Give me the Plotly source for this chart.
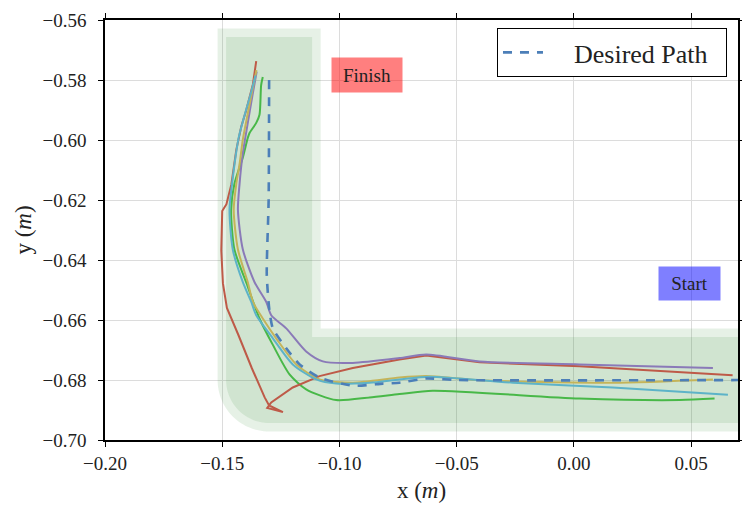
import math
import plotly.graph_objects as go

# ---------------- data ----------------
X_RANGE = [-0.20, 0.07]
Y_RANGE = [-0.70, -0.56]
X_TICKS = [-0.20, -0.15, -0.10, -0.05, 0.00, 0.05]
Y_TICKS = [-0.70, -0.68, -0.66, -0.64, -0.62, -0.60, -0.58, -0.56]

# corridor centre line (top end, corner, right end)
CORRIDOR_X = [-0.13, -0.13, 0.10]
CORRIDOR_Y = [-0.58, -0.68, -0.68]

DESIRED_X = [-0.1300, -0.1302, -0.1310, -0.1298, -0.1284, -0.1227, -0.1170, -0.1085,
             -0.0943, -0.0815, -0.0744, -0.0630, -0.0500, 0.0800]
DESIRED_Y = [-0.5800, -0.6200, -0.6450, -0.6573, -0.6628, -0.6694, -0.6748, -0.6792,
             -0.6819, -0.6812, -0.6809, -0.6795, -0.6800, -0.6800]

GREEN_X = [0.0600, 0.0451, 0.0024, -0.0602, -0.0744, -0.0872, -0.1014, -0.1142, -0.1213,
           -0.1284, -0.1341, -0.1398, -0.1448, -0.1462, -0.1448, -0.1412, -0.1391, -0.1383,
           -0.1355, -0.1341, -0.1334, -0.1327]
GREEN_Y = [-0.6862, -0.6867, -0.6862, -0.6836, -0.6847, -0.6858, -0.6867, -0.6831, -0.6781,
           -0.6683, -0.6595, -0.6474, -0.6365, -0.6233, -0.6146, -0.6058, -0.5993, -0.5976,
           -0.5943, -0.5916, -0.5817, -0.5790]

RED_X = [0.0677, 0.0024, -0.0402, -0.0630, -0.0744, -0.0943, -0.1085, -0.1199, -0.1291,
         -0.1308, -0.1241, -0.1300, -0.1319, -0.1374, -0.1431, -0.1480, -0.1497, -0.1504,
         -0.1500, -0.1482, -0.1461, -0.1440, -0.1419, -0.1398, -0.1369, -0.1355]
RED_Y = [-0.6784, -0.6754, -0.6741, -0.6718, -0.6732, -0.6760, -0.6787, -0.6825, -0.6875,
         -0.6893, -0.6907, -0.6885, -0.6858, -0.6760, -0.6650, -0.6560, -0.6478, -0.6368,
         -0.6237, -0.6214, -0.6148, -0.6033, -0.5956, -0.5902, -0.5814, -0.5737]

PURPLE_X = [0.0593, 0.0024, -0.0402, -0.0630, -0.0744, -0.0943, -0.1071, -0.1142, -0.1227,
            -0.1291, -0.1312, -0.1362, -0.1412, -0.1433, -0.1426, -0.1413, -0.1392, -0.1371,
            -0.1353]
PURPLE_Y = [-0.6760, -0.6748, -0.6738, -0.6715, -0.6727, -0.6743, -0.6738, -0.6705, -0.6628,
            -0.6584, -0.6540, -0.6474, -0.6365, -0.6233, -0.6146, -0.6049, -0.5948, -0.5851,
            -0.5772]

OLIVE_X = [0.0593, 0.0166, -0.0402, -0.0630, -0.0744, -0.0943, -0.1085, -0.1184, -0.1270,
           -0.1327, -0.1369, -0.1391, -0.1433, -0.1451, -0.1440, -0.1426, -0.1412, -0.1392,
           -0.1371, -0.1354]
OLIVE_Y = [-0.6798, -0.6809, -0.6801, -0.6787, -0.6792, -0.6809, -0.6798, -0.6748, -0.6661,
           -0.6595, -0.6540, -0.6474, -0.6365, -0.6233, -0.6146, -0.6080, -0.5998, -0.5916,
           -0.5833, -0.5767]

CYAN_X = [0.0657, 0.0166, -0.0260, -0.0616, -0.0744, -0.0872, -0.1014, -0.1099, -0.1199,
          -0.1284, -0.1355, -0.1376, -0.1412, -0.1455, -0.1469, -0.1458, -0.1430, -0.1408,
          -0.1380, -0.1358]
CYAN_Y = [-0.6849, -0.6825, -0.6809, -0.6789, -0.6798, -0.6809, -0.6812, -0.6798, -0.6748,
          -0.6661, -0.6584, -0.6540, -0.6474, -0.6365, -0.6233, -0.6146, -0.5993, -0.5927,
          -0.5850, -0.5785]

# ---------------- layout constants ----------------
# the page places the figure 8px in from the top-left corner
W, H = 742, 503
M = dict(l=97, r=12, t=12, b=71)
PLOT_W = W - M["l"] - M["r"]
PLOT_H = H - M["t"] - M["b"]
SX = PLOT_W / (X_RANGE[1] - X_RANGE[0])
SY = PLOT_H / (Y_RANGE[1] - Y_RANGE[0])


def band_polygon(half_px):
    dx = half_px / SX
    dy = half_px / SY
    tx, cx, rx = CORRIDOR_X
    ty, cy, ry = CORRIDOR_Y
    xs = [cx - dx, cx + dx, cx + dx, rx, rx, cx]
    ys = [ty + dy, ty + dy, cy + dy, cy + dy, cy - dy, cy - dy]
    n = 30
    for i in range(1, n + 1):
        t = -math.pi / 2 - (math.pi / 2) * i / n
        xs.append(cx + dx * math.cos(t))
        ys.append(cy + dy * math.sin(t))
    xs.append(cx - dx)
    ys.append(ty + dy)
    return xs, ys


fig = go.Figure()
band_col = "rgba(60,150,60,0.13)"
for hp in (51.5, 43):
    bx, by = band_polygon(hp)
    fig.add_trace(go.Scatter(x=bx, y=by, fill="toself", fillcolor=band_col,
                             mode="none", hoverinfo="skip", showlegend=False))

runs = [
    (GREEN_X, GREEN_Y, "#48B848", "spline"),
    (RED_X, RED_Y, "#BE5A48", "linear"),
    (PURPLE_X, PURPLE_Y, "#8A7AB8", "spline"),
    (OLIVE_X, OLIVE_Y, "#C4B45A", "spline"),
    (CYAN_X, CYAN_Y, "#5DB3C8", "spline"),
]
for xs, ys, col, shp in runs:
    fig.add_trace(go.Scatter(x=xs, y=ys, mode="lines",
                             line=dict(color=col, width=2, shape=shp, smoothing=0.7),
                             showlegend=False, hoverinfo="skip"))

NBSP = "\u00a0"
fig.add_trace(go.Scatter(x=DESIRED_X, y=DESIRED_Y, mode="lines",
                         name=NBSP * 4 + "Desired Path" + NBSP * 2,
                         line=dict(color="#4C7FB8", width=2.6, dash="9px,8px",
                                   shape="spline", smoothing=0.6)))

FONT = "Liberation Serif"
fig.add_annotation(x=-0.0884, y=-0.5784, xref="x", yref="y", text="Finish", showarrow=False,
                   bgcolor="rgba(255,0,0,0.5)", width=66, height=30, borderpad=2,
                   font=dict(family=FONT, size=19, color="#222"))
fig.add_annotation(x=0.0491, y=-0.6479, xref="x", yref="y", text="Start", showarrow=False,
                   bgcolor="rgba(0,0,255,0.5)", width=57, height=29, borderpad=2,
                   font=dict(family=FONT, size=19, color="#222"))

axis_common = dict(showgrid=True, gridcolor="#dcdcdc", gridwidth=1, zeroline=False,
                   showline=True, linecolor="black", linewidth=1.6, mirror="ticks",
                   ticks="outside", ticklen=5, tickcolor="black", tickwidth=1,
                   automargin=False, ticklabeloverflow="allow",
                   tickfont=dict(family=FONT, size=19, color="#222"), tickformat=".2f")

fig.update_layout(
    width=W, height=H, margin=M, plot_bgcolor="white", paper_bgcolor="white",
    xaxis=dict(range=X_RANGE, tickvals=X_TICKS, **axis_common,
               title=dict(text="x (<i>m</i>)", font=dict(family=FONT, size=23, color="#222"),
                          standoff=9)),
    yaxis=dict(range=Y_RANGE, tickvals=Y_TICKS, **axis_common, ticklabelstandoff=8,
               title=dict(text="y (<i>m</i>)", font=dict(family=FONT, size=23, color="#222"),
                          standoff=4)),
    legend=dict(x=0.9826, y=0.981, xanchor="right", yanchor="top", bgcolor="white",
                bordercolor="black", borderwidth=1,
                font=dict(family=FONT, size=26, color="#222"), itemwidth=40),
    showlegend=True,
)

fig.write_html("out.html")
